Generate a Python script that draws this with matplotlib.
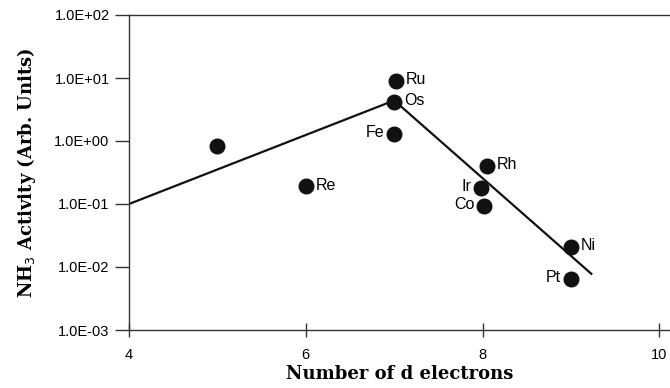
# NH3 activity vs number of d electrons

import numpy as np
import matplotlib.pyplot as plt

# data points
metals = ['', 'Re', 'Ru', 'Os', 'Fe', 'Rh', 'Ir', 'Co', 'Ni', 'Pt']
d_electrons = [5, 6, 7.02, 7.0, 7.0, 8.05, 7.98, 8.02, 9.0, 9.0]
activity = [0.83, 0.19, 9.0, 4.2, 1.3, 0.4, 0.18, 0.092, 0.021, 0.0065]
label_side = ['', 'right', 'right', 'right', 'left', 'right', 'left', 'left', 'right', 'left']

# trend line (volcano)
trend_x = [4, 7.0, 9.23]
trend_y = [0.1, 4.4, 0.0078]

yticks = [1e-3, 1e-2, 1e-1, 1e0, 1e1, 1e2]
ytick_labels = ['1.0E-03', '1.0E-02', '1.0E-01', '1.0E+00', '1.0E+01', '1.0E+02']
xticks = [4, 6, 8, 10]

fig = plt.figure(figsize=(6.7, 3.88), dpi=100)
ax = fig.add_axes([129 / 670, 1 - 330 / 388, 541 / 670, 315 / 388])

ax.plot(trend_x, trend_y, color='#111111', lw=1.6, zorder=2)
ax.plot(d_electrons, activity, 'o', color='#111111', markersize=10.5, zorder=3)

for name, x, y, side in zip(metals, d_electrons, activity, label_side):
    if not name:
        continue
    if side == 'right':
        ax.annotate(name, (x, y), xytext=(7, 1), textcoords='offset points',
                    ha='left', va='center', fontsize=11.5, family='Liberation Sans')
    else:
        ax.annotate(name, (x, y), xytext=(-7, 1), textcoords='offset points',
                    ha='right', va='center', fontsize=11.5, family='Liberation Sans')

ax.set_yscale('log')
ax.set_ylim(1e-3, 1e2)
ax.set_xlim(4, 10.12)
ax.set_yticks(yticks)
ax.set_yticklabels(ytick_labels, family='Liberation Sans', fontsize=10.5)
ax.minorticks_off()
ax.set_xticks(xticks)
ax.set_xticklabels([str(t) for t in xticks], family='Liberation Sans', fontsize=10.5)

ax.spines['right'].set_visible(False)
for s in ['left', 'top', 'bottom']:
    ax.spines[s].set_linewidth(1.0)
    ax.spines[s].set_color('#333333')
ax.tick_params(axis='y', direction='out', length=10, width=1.0, color='#333333', pad=4)
ax.tick_params(axis='x', direction='inout', length=10, width=1.0, color='#333333', pad=8)

ax.set_xlabel('Number of d electrons', family='DejaVu Serif', fontweight='bold',
              fontsize=13, labelpad=2)
ax.set_ylabel('NH$_3$ Activity (Arb. Units)', family='DejaVu Serif', fontweight='bold',
              fontsize=13, labelpad=12)

fig.savefig('out.png', dpi=100)
